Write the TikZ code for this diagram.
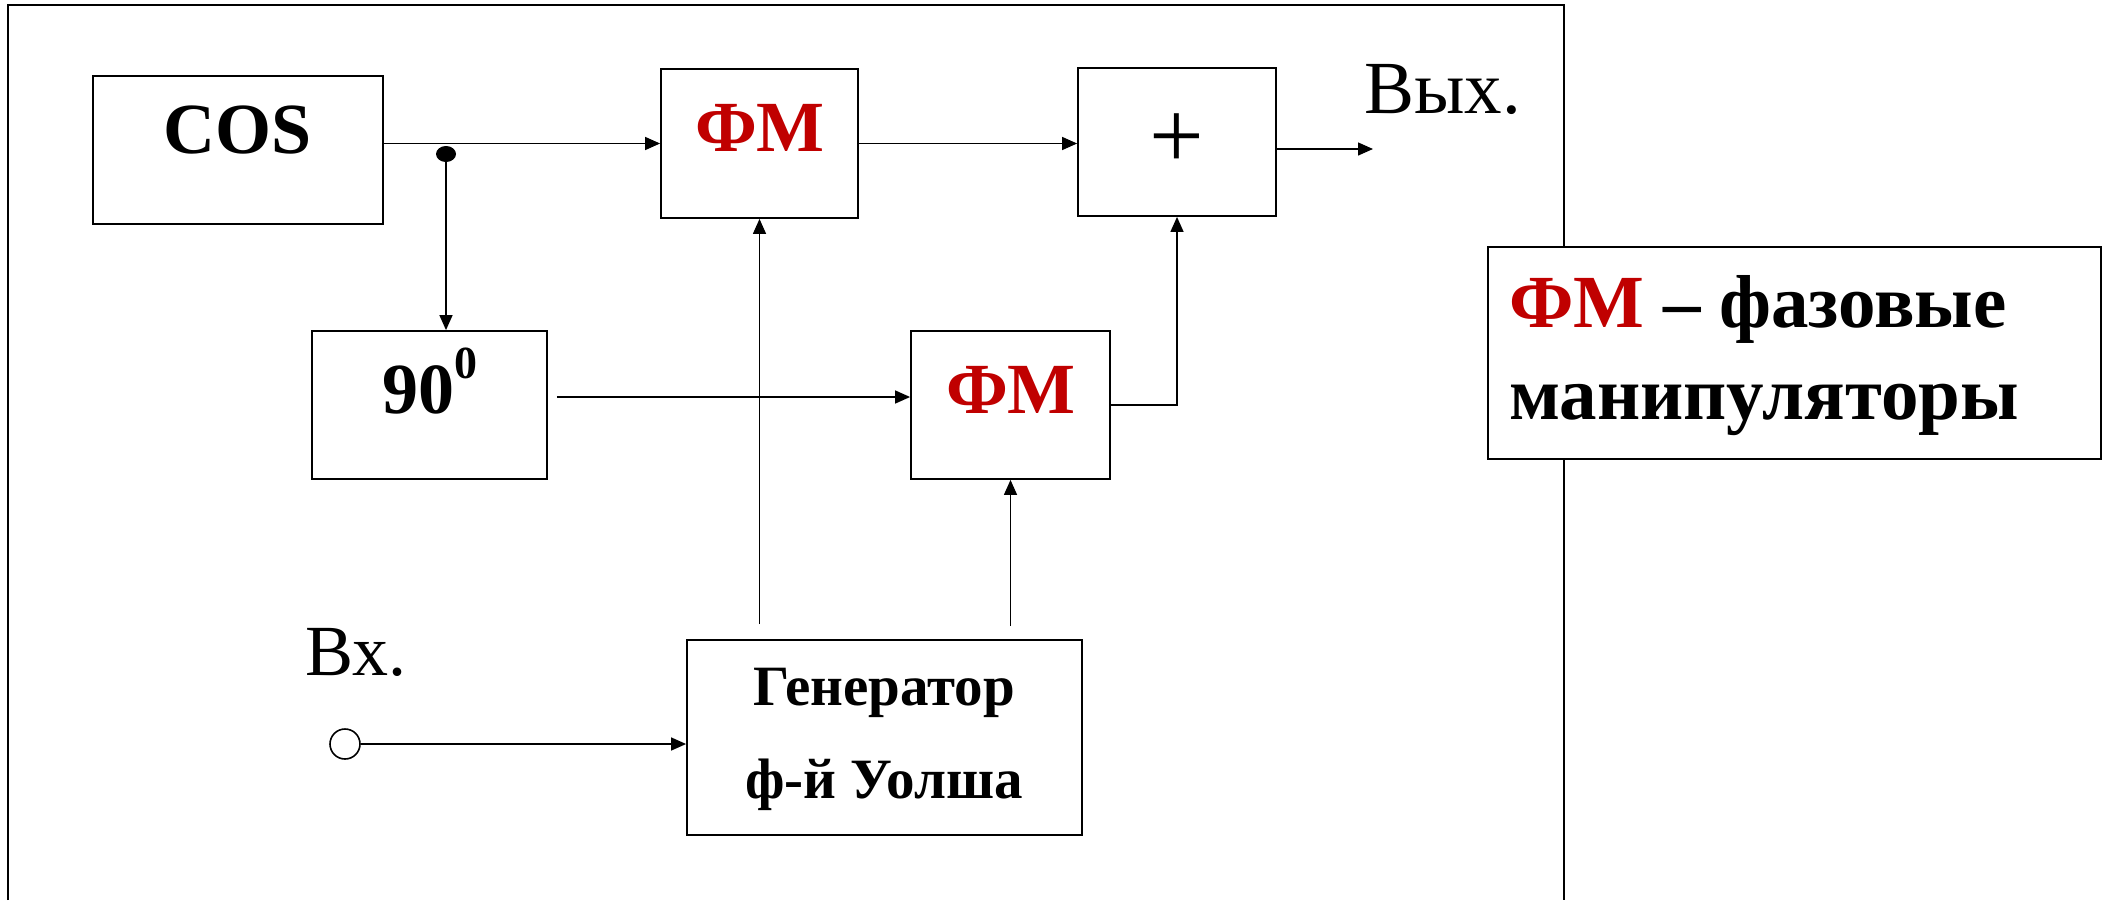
\documentclass[tikz,border=0pt]{standalone}
\usepackage{fontspec}
\setmainfont{Liberation Serif}
\usetikzlibrary{arrows.meta}
\definecolor{fmred}{HTML}{C00000}
\newcommand\fsz[1]{\fontsize{#1}{#1}\selectfont}
\begin{document}
\begin{tikzpicture}[x=1pt,y=-1pt,
  blk/.style={draw, line width=1.8pt, inner sep=0pt, fill=white},
  conn/.style={line width=1.4pt, -{Triangle[length=15pt,width=13pt]}},
  plain/.style={line width=1.4pt},
  txt/.style={inner sep=0pt},
  boldtxt/.style={inner sep=0pt, font=\bfseries\fsz{72}},
  fmtxt/.style={inner sep=0pt, font=\bfseries\fsz{72}, text=fmred}]
\useasboundingbox (0,0) rectangle (2109,900);
% outer frame
\draw[line width=2.5pt] (8,900) -- (8,5) -- (1564,5) -- (1564,900);
% blocks
\node[blk, minimum width=290pt, minimum height=148pt] (cos) at (238,150) {};
\node[blk, minimum width=197pt, minimum height=149pt] (fm1) at (759.5,143.5) {};
\node[blk, minimum width=198pt, minimum height=148pt] (plus) at (1177,142) {};
\node[blk, minimum width=235pt, minimum height=148pt] (ph) at (429.5,405) {};
\node[blk, minimum width=199pt, minimum height=148pt] (fm2) at (1010.5,405) {};
\node[blk, minimum width=395pt, minimum height=195pt] (gen) at (884.5,737.5) {};
\node[blk, minimum width=613pt, minimum height=212pt] (leg) at (1794.5,353) {};
\node[draw, circle, line width=1.6pt, minimum size=30pt, inner sep=0pt] (term) at (345,744) {};
% texts
\node[boldtxt, anchor=base] (tcos) at (238,153) {COS};
\node[fmtxt, anchor=base] (tfm1) at (760,151) {ФМ};
\node[fmtxt, anchor=base] (tfm2) at (1011,413) {ФМ};
\node[boldtxt, anchor=base west] (tph) at (382,413) {90\raisebox{35pt}{\fsz{46}0}};
\node[txt, font=\fsz{97}, anchor=base] (tplus) at (1177,168) {+};
\node[txt, font=\bfseries\fsz{57}, anchor=base] (tgen1) at (884,705) {Генератор};
\node[txt, font=\bfseries\fsz{57}, anchor=base] (tgen2) at (884,798) {ф-й Уолша};
\node[txt, font=\bfseries\fsz{75}, anchor=base west] (tleg1) at (1509,327) {\textcolor{fmred}{ФМ} – фазовые};
\node[txt, font=\bfseries\fsz{75}, anchor=base west] (tleg2) at (1509,419) {манипуляторы};
\node[txt, font=\fsz{75}, anchor=base west] (tout) at (1364,113) {Вых.};
\node[txt, font=\fsz{72}, anchor=base west] (tin) at (305,675) {Вх.};
% junction dot
\fill (446,154) ellipse [x radius=10pt, y radius=8pt];
\coordinate (dot) at (446,154);
\coordinate (out) at (1373,149);
% connectors
\draw[conn] (cos.east |- fm1.west) -- (fm1.west);
\draw[conn] (dot) -- (dot |- ph.north);
\draw[conn] (fm1.east) -- (plus.west |- fm1.east);
\draw[conn] (plus.east |- out) -- (out);
\draw[conn] ([shift={(9,-8)}]ph.east) -- ([shift={(0,-8)}]fm2.west);
\draw[conn] (fm2.east) -| (plus.south);
\draw[conn] ([yshift=15pt]gen.north -| fm1.south) -- (fm1.south);
\draw[conn] ([yshift=13pt]gen.north -| fm2.south) -- (fm2.south);
\draw[conn] (term.east) -- (term.east -| gen.west);
\end{tikzpicture}
\end{document}
